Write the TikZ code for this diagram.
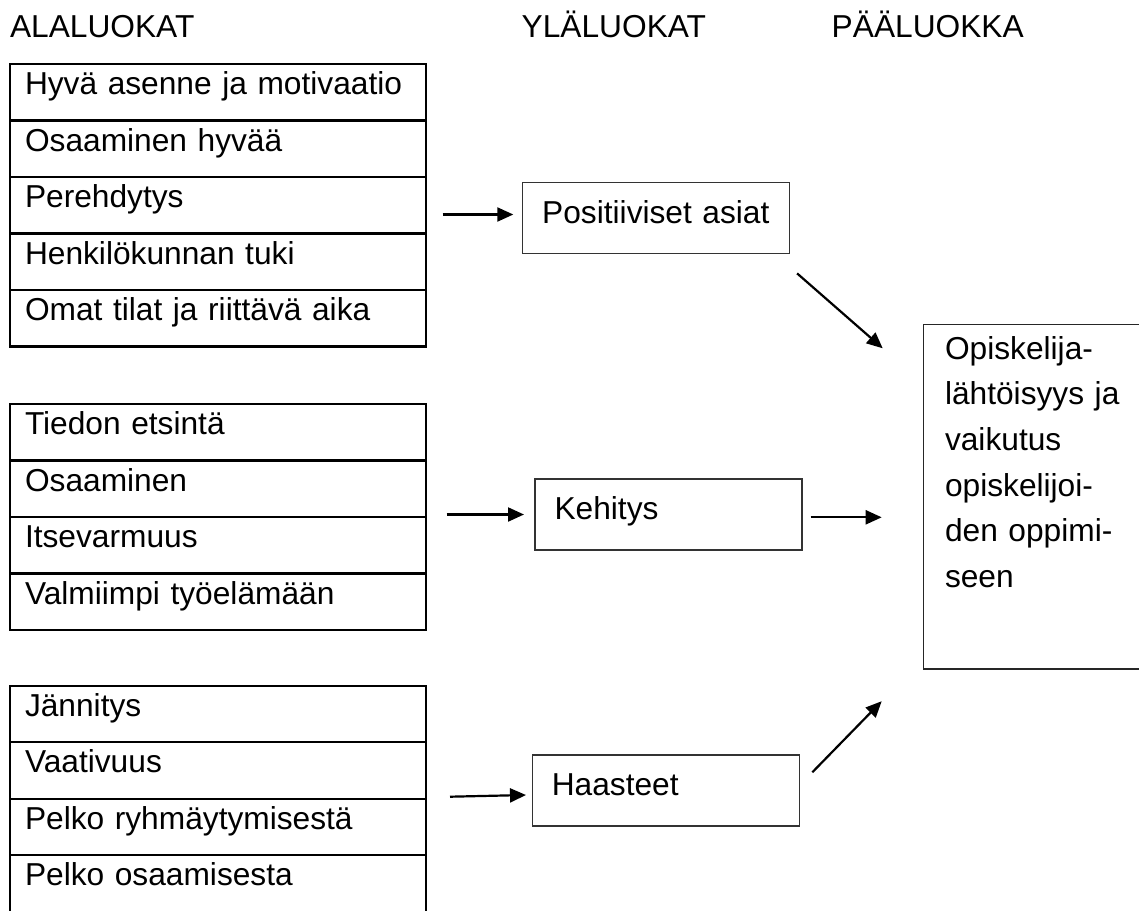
\documentclass[tikz,border=0pt]{standalone}
\usepackage{fontspec}
\setmainfont{Liberation Sans}
\usetikzlibrary{arrows.meta}
\begin{document}
\begin{tikzpicture}[x=1pt,y=-1pt,
  every node/.style={font=\fontsize{31.7}{45.7}\selectfont, outer sep=0pt},
  head/.style={anchor=base west, inner sep=0pt},
  row/.style={draw, line width=2.2pt, anchor=north west, text width=386pt,
    align=left, inner xsep=15pt, inner ysep=8.5pt, text height=22pt, text depth=17.5pt},
  midbox/.style={draw=black!80, line width=1.3pt, anchor=north west, text width=228pt,
    align=left, inner xsep=19.5pt, inner ysep=18.5pt, text height=22pt, text depth=12pt},
  mainbox/.style={draw=black!85, line width=1.5pt, anchor=north west, text width=180pt,
    align=left, inner xsep=21.7pt, inner ysep=12pt, text height=22.7pt, text depth=298.2pt},
  arr/.style={-{Triangle[length=16pt,width=14pt]}, line width=2.2pt}
]
\useasboundingbox (0,0) rectangle (1139,910);
\clip (0,0) rectangle (1139,910);

% column headings
\node[head] (h1) at (10,37.7) {ALALUOKAT};
\node[head] (h2) at (521.7,37) {YLÄLUOKAT};
\node[head] (h3) at (831.7,37) {PÄÄLUOKKA};

% subcategories, first group
\node[row] (a1) at (10,64) {Hyvä asenne ja motivaatio};
\node[row] (a2) at (a1.south west) {Osaaminen hyvää};
\node[row] (a3) at (a2.south west) {Perehdytys};
\node[row] (a4) at (a3.south west) {Henkilökunnan tuki};
\node[row] (a5) at (a4.south west) {Omat tilat ja riittävä aika};

% second group
\node[row] (b1) at (10,404) {Tiedon etsintä};
\node[row] (b2) at (b1.south west) {Osaaminen};
\node[row] (b3) at (b2.south west) {Itsevarmuus};
\node[row] (b4) at (b3.south west) {Valmiimpi työelämään};

% third group
\node[row] (c1) at (10,685.7) {Jännitys};
\node[row] (c2) at (c1.south west) {Vaativuus};
\node[row] (c3) at (c2.south west) {Pelko ryhmäytymisestä};
\node[row] (c4) at (c3.south west) {Pelko osaamisesta};

% upper categories
\node[midbox] (pos) at (522.7,182.7) {Positiiviset asiat};
\node[midbox] (keh) at (535,479) {Kehitys};
\node[midbox] (haa) at (532.3,755) {Haasteet};

% main category
\node[mainbox] (R) at (923.3,324.3) {Opiskelija-\\lähtöisyys ja\\vaikutus\\opiskelijoi-\\\makebox[170pt][s]{den oppimi-}\\seen};

% arrows from subcategories to upper categories
\coordinate (t1) at ([shift={(-9.4,-3.7)}]pos.west);
\draw[arr] ([xshift=16.7pt]a3.east |- t1) -- (t1);
\coordinate (t2) at ([xshift=-11pt]keh.west);
\draw[arr] ([xshift=20.7pt]b2.east |- t2) -- (t2);
\coordinate (t3) at ([shift={(-6.3,4.5)}]haa.west);
\draw[arr] ([shift={(24,1.7)}]c2.east |- t3) -- (t3);

% arrows from upper categories to the main category
\draw[arr] ([shift={(7.4,19.7)}]pos.south east) -- ([shift={(-40.6,24)}]R.north west);
\draw[arr] ([shift={(8.7,2.8)}]keh.east) coordinate (k0) -- ([xshift=-41.6pt]R.west |- k0);
\draw[arr] ([shift={(13,17.3)}]haa.north east) -- ([shift={(-41.6,32)}]R.south west);
\end{tikzpicture}
\end{document}
